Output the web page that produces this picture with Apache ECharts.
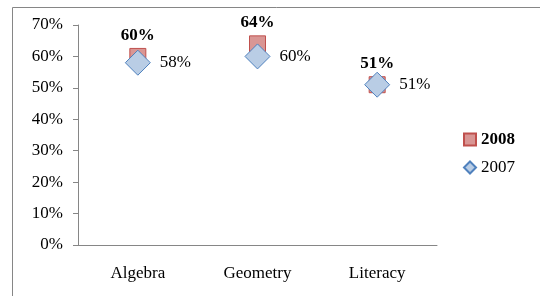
<!DOCTYPE html>
<html>
<head>
<meta charset="utf-8">
<script src="https://cdn.jsdelivr.net/npm/echarts@6/dist/echarts.min.js"></script>
<style>
html, body { margin: 0; padding: 0; background: #fff; }
#chart { width: 540px; height: 296px; }
</style>
</head>
<body>
<div id="chart"></div>
<script>
// 数据
var categories = ['Algebra', 'Geometry', 'Literacy'];
var data2008 = [60, 64, 51];
var data2007 = [58, 60, 51];
var yTicks = [0, 10, 20, 30, 40, 50, 60, 70];

var myChart = echarts.init(document.getElementById('chart'));
var serif = '"Liberation Serif", "DejaVu Serif", serif';

myChart.setOption({
    animation: false,
    textStyle: { fontFamily: serif },
    graphic: [{
        type: 'rect',
        shape: { x: 12.5, y: 7.5, width: 560, height: 320 },
        style: { fill: 'none', stroke: '#868686', lineWidth: 1 },
        z: -1
    }],
    grid: { left: 78, right: 103, top: 25, bottom: 51 },
    legend: {
        orient: 'vertical',
        left: 458,
        top: 126,
        itemGap: 11,
        itemWidth: 12,
        itemHeight: 12,
        textStyle: { fontFamily: serif, fontSize: 17, color: '#000' },
        data: [
            { name: '2008', icon: 'rect', textStyle: { fontWeight: 'bold' } },
            { name: '2007', icon: 'diamond' }
        ]
    },
    xAxis: {
        type: 'category',
        data: categories,
        boundaryGap: true,
        axisLine: { lineStyle: { color: '#868686' } },
        axisTick: { length: 5, lineStyle: { color: '#868686' } },
        axisLabel: { color: '#000', fontSize: 17, fontFamily: serif, margin: 20 }
    },
    yAxis: {
        type: 'value',
        min: yTicks[0],
        max: yTicks[yTicks.length - 1],
        interval: 10,
        axisLine: { show: true, lineStyle: { color: '#868686' } },
        axisTick: { show: true, length: 5, lineStyle: { color: '#868686' } },
        splitLine: { show: false },
        axisLabel: {
            color: '#000', fontSize: 17, fontFamily: serif, margin: 15,
            formatter: '{value}%'
        }
    },
    series: [
        {
            name: '2008',
            type: 'scatter',
            symbol: 'rect',
            symbolSize: 16,
            data: data2008,
            itemStyle: { color: '#d99694', borderColor: '#c0504d', borderWidth: 1, opacity: 1 },
            label: {
                show: true,
                position: 'top',
                distance: 4,
                formatter: '{c}%',
                color: '#000',
                fontWeight: 'bold',
                fontSize: 17,
                fontFamily: serif
            },
            z: 2
        },
        {
            name: '2007',
            type: 'scatter',
            symbol: 'diamond',
            symbolSize: [25, 25],
            data: data2007,
            itemStyle: { color: '#b9cde5', borderColor: '#4f81bd', borderWidth: 1, opacity: 1 },
            label: {
                show: true,
                position: 'right',
                distance: 9,
                formatter: '{c}%',
                color: '#000',
                fontSize: 17,
                fontFamily: serif
            },
            z: 3
        }
    ]
});
</script>
</body>
</html>
